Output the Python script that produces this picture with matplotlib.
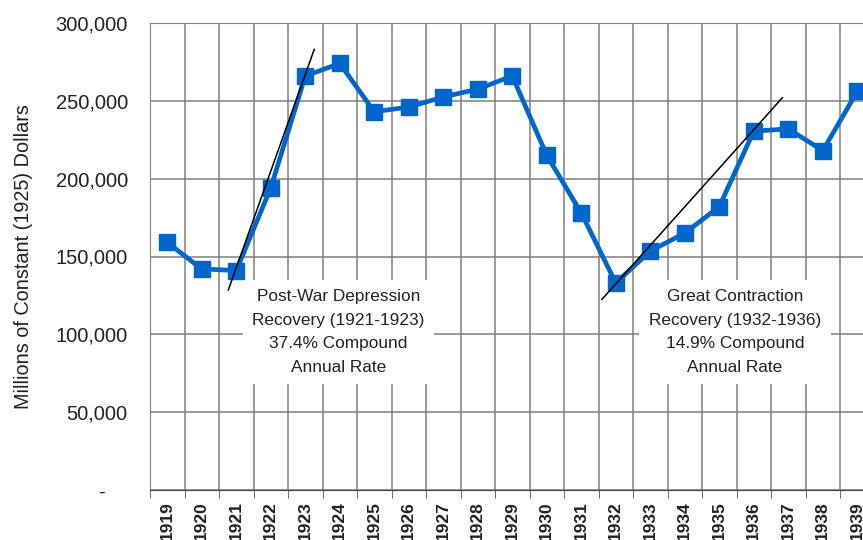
import numpy as np
import matplotlib
matplotlib.use('Agg')
import matplotlib.pyplot as plt
from matplotlib.ticker import FuncFormatter, MultipleLocator

plt.rcParams['font.family'] = ['Liberation Sans', 'DejaVu Sans']

# Data (millions of constant 1925 dollars)
years = [str(y) for y in range(1919, 1940)]
values = [159000, 142000, 141000, 194000, 266000, 274000, 243000, 246000,
          252500, 257500, 266000, 215000, 178000, 133000, 153500, 165000,
          182000, 230500, 232000, 218000, 256000]

# Compound-rate trend lines (category position, value)
trend1_x = [1.77, 4.26]
trend1_y = [128500, 283000]
trend2_x = [12.6, 17.83]
trend2_y = [122500, 252000]

note1 = 'Post-War Depression\nRecovery (1921-1923)\n37.4% Compound\nAnnual Rate'
note2 = 'Great Contraction\nRecovery (1932-1936)\n14.9% Compound\nAnnual Rate'

fig = plt.figure(figsize=(8.63, 5.40), dpi=100)
ax = fig.add_axes([150 / 863, 50 / 540, 724.5 / 863, 467 / 540])

x = np.arange(len(years))
ax.plot(x, values, color='#0066CC', linewidth=3.4, marker='s', markersize=11,
        zorder=4)
ax.plot(trend1_x, trend1_y, color='black', linewidth=1.1, zorder=5)
ax.plot(trend2_x, trend2_y, color='black', linewidth=1.1, zorder=5)

ax.set_xlim(-0.5, len(years) - 0.5)
ax.set_ylim(0, 300000)

# category boundaries as grid
ax.set_xticks(x)
ax.set_xticklabels(years, rotation=90, fontsize=12.5, fontweight='bold',
                   color='#222222')
ax.set_xticks(np.arange(-0.5, len(years)), minor=True)
ax.tick_params(axis='x', which='major', length=0, pad=8)
ax.tick_params(axis='x', which='minor', length=6, color='#555555')
ax.grid(True, axis='x', which='minor', color='#808080', linewidth=1.1)

ax.yaxis.set_major_locator(MultipleLocator(50000))
ax.yaxis.set_major_formatter(FuncFormatter(
    lambda v, p: '-    ' if v == 0 else f'{int(v):,}'))
ax.tick_params(axis='y', length=0, pad=16, labelsize=14.5, labelcolor='#222222')
ax.grid(True, axis='y', which='major', color='#808080', linewidth=1.1)
ax.set_axisbelow(True)

for s in ['left', 'top', 'right']:
    ax.spines[s].set_color('#808080')
ax.spines['bottom'].set_color('#444444')

ax.set_ylabel('Millions of Constant (1925) Dollars', fontsize=14.3,
              color='#222222', labelpad=16)

bbox = dict(facecolor='white', edgecolor='none', pad=7)
ax.text(4.96, 101500, note1, ha='center', va='center', fontsize=12.4,
        linespacing=1.7, color='#222222', bbox=bbox, zorder=3)
ax.text(16.46, 101500, note2, ha='center', va='center', fontsize=12.4,
        linespacing=1.7, color='#222222', bbox=bbox, zorder=3)

plt.savefig('out.png', dpi=100)
plt.close()
